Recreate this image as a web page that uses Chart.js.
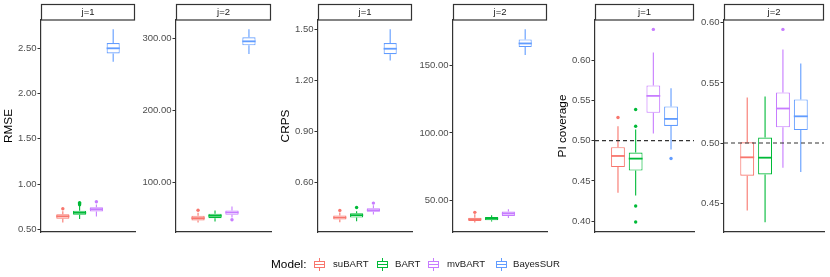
<!DOCTYPE html>
<html>
<head>
<meta charset="utf-8">
<script src="https://cdn.jsdelivr.net/npm/chart.js@4.4.1/dist/chart.umd.min.js"></script>
<style>
  body { margin: 0; background: #fff; width: 830px; height: 277px; position: relative; overflow: hidden;
         font-family: "Liberation Sans", Arial, sans-serif; }
  canvas { position: absolute; top: 0; }
  .lg { position: absolute; white-space: nowrap; color: #1a1a1a; }
  .key { position: absolute; width: 11px; height: 13px; }
  .key div { position: absolute; }
</style>
</head>
<body>
<canvas id="c1"></canvas>
<canvas id="c2"></canvas>
<canvas id="c3"></canvas>
<canvas id="c4"></canvas>
<canvas id="c5"></canvas>
<canvas id="c6"></canvas>
<div id="legend"></div>
<script>
const models = ["suBART", "BART", "mvBART", "BayesSUR"];
const modelColors = ["#F8766D", "#00BA38", "#C77CFF", "#619CFF"];

// box stats per model: [lower whisker, q1, median, q3, upper whisker]
const rmseJ1 = [[0.576, 0.619, 0.645, 0.667, 0.700], [0.616, 0.662, 0.684, 0.707, 0.758],
                [0.644, 0.699, 0.724, 0.746, 0.776], [2.349, 2.441, 2.497, 2.555, 2.707]];
const rmseJ1Out = [[0.729], [0.772, 0.785, 0.796], [0.806], []];
const rmseJ2 = [[43.8, 46.6, 49.8, 53.1, 57.3], [45.2, 49.8, 53.1, 56.0, 60.5],
                [50.8, 54.5, 57.7, 60.5, 66.1], [278.1, 290.2, 295.8, 301.4, 312.6]];
const rmseJ2Out = [[60.8], [], [47.6], []];
const crpsJ1 = [[0.366, 0.381, 0.393, 0.405, 0.423], [0.371, 0.393, 0.407, 0.419, 0.430],
                [0.411, 0.427, 0.436, 0.448, 0.466], [1.317, 1.354, 1.386, 1.419, 1.500]];
const crpsJ1Out = [[0.435], [0.452], [0.478], []];
const crpsJ2 = [[34.0, 35.0, 36.3, 37.5, 40.0], [34.6, 35.5, 36.8, 38.0, 39.2],
                [37.2, 38.7, 40.5, 42.0, 43.6], [157.4, 163.3, 166.0, 169.0, 176.4]];
const crpsJ2Out = [[41.4], [], [], []];
const piJ1 = [[0.4354, 0.4673, 0.4810, 0.4918, 0.5180], [0.4320, 0.4629, 0.4777, 0.4852, 0.5138],
              [0.5088, 0.5345, 0.5556, 0.5685, 0.6096], [0.4889, 0.5183, 0.5270, 0.5424, 0.5652]];
const piJ1Out = [[0.5287], [0.5387, 0.5179, 0.4188, 0.3990], [0.6381], [0.4778]];
const piJ2 = [[0.4439, 0.4728, 0.4881, 0.5006, 0.5378], [0.4342, 0.4739, 0.4878, 0.5045, 0.5387],
              [0.4795, 0.5131, 0.5287, 0.5420, 0.5778], [0.4758, 0.5108, 0.5222, 0.5362, 0.5662]];
const piJ2Out = [[], [], [0.5945], []];

const rmseJ1Ticks = [0.5, 1.0, 1.5, 2.0, 2.5];
const rmseJ2Ticks = [100, 200, 300];
const crpsJ1Ticks = [0.6, 0.9, 1.2, 1.5];
const crpsJ2Ticks = [50, 100, 150];
const piJ1Ticks = [0.40, 0.45, 0.50, 0.55, 0.60];
const piJ2Ticks = [0.45, 0.50, 0.55, 0.60];
const piTarget = 0.5;

const FONT = "'Liberation Sans', Arial, sans-serif";
const AXIS = "#333333";

function makePanel(o) {
  const canvas = document.getElementById(o.id);
  canvas.width = o.axisW + o.plotW + 2;
  canvas.height = 240;
  canvas.style.left = o.left + "px";

  const outPts = [], outCols = [];
  o.outliers.forEach((arr, i) => arr.forEach(v => { outPts.push({ x: i + 1, y: v }); outCols.push(modelColors[i]); }));

  const parts = {
    id: "boxParts",
    beforeDatasetsDraw(chart) {
      const { ctx, scales: { x, y } } = chart;
      ctx.save();
      ctx.lineWidth = 1.1;
      o.stats.forEach((s, i) => {
        const px = x.getPixelForValue(i + 1);
        ctx.strokeStyle = modelColors[i];
        ctx.beginPath();
        ctx.moveTo(px, y.getPixelForValue(s[0]));
        ctx.lineTo(px, y.getPixelForValue(s[1]));
        ctx.moveTo(px, y.getPixelForValue(s[3]));
        ctx.lineTo(px, y.getPixelForValue(s[4]));
        ctx.stroke();
      });
      ctx.restore();
    },
    afterDatasetsDraw(chart) {
      const { ctx, chartArea, scales: { y } } = chart;
      const bars = chart.getDatasetMeta(0).data;
      ctx.save();
      ctx.lineWidth = 1.8;
      o.stats.forEach((s, i) => {
        const b = bars[i];
        const py = y.getPixelForValue(s[2]);
        ctx.strokeStyle = modelColors[i];
        ctx.beginPath();
        ctx.moveTo(b.x - b.width / 2, py);
        ctx.lineTo(b.x + b.width / 2, py);
        ctx.stroke();
      });
      if (o.refLine !== undefined) {
        const py = y.getPixelForValue(o.refLine);
        ctx.strokeStyle = "#333";
        ctx.lineWidth = 1.1;
        ctx.setLineDash([4, 3]);
        ctx.beginPath();
        ctx.moveTo(chartArea.left, py);
        ctx.lineTo(chartArea.right, py);
        ctx.stroke();
      }
      ctx.restore();
    },
    afterDraw(chart) {
      const { ctx, chartArea } = chart;
      ctx.save();
      ctx.fillStyle = "#fff";
      ctx.strokeStyle = AXIS;
      ctx.lineWidth = 1.2;
      ctx.fillRect(chartArea.left, 4, chartArea.right - chartArea.left, 16);
      ctx.strokeRect(chartArea.left + 0.5, 4.5, chartArea.right - chartArea.left - 1, 15.5);
      ctx.fillStyle = "#1a1a1a";
      ctx.font = "9.5px " + FONT;
      ctx.textAlign = "center";
      ctx.textBaseline = "middle";
      ctx.fillText(o.strip, (chartArea.left + chartArea.right) / 2, 12.5);
      ctx.restore();
    }
  };

  return new Chart(canvas, {
    type: "bar",
    data: {
      datasets: [
        {
          type: "bar",
          data: o.stats.map((s, i) => ({ x: i + 1, y: [s[1], s[3]] })),
          backgroundColor: "#ffffff",
          borderColor: modelColors,
          borderWidth: 1.1,
          borderSkipped: false,
          categoryPercentage: 1,
          barPercentage: 0.78,
        },
        {
          type: "scatter",
          data: outPts,
          pointRadius: 1.7,
          pointBorderWidth: 0,
          pointBackgroundColor: outCols,
        },
      ],
    },
    options: {
      responsive: false,
      animation: false,
      events: [],
      layout: { padding: { left: 0, right: 2, top: 20, bottom: 8 } },
      plugins: { legend: { display: false }, tooltip: { enabled: false } },
      scales: {
        x: {
          type: "linear",
          min: 0.4,
          max: 4.6,
          afterBuildTicks: s => { s.ticks = models.map((m, i) => ({ value: i + 1 })); },
          afterFit: s => { s.height = 0; },
          ticks: { display: false },
          grid: { display: false },
          border: { display: true, color: AXIS, width: 1.2 },
        },
        y: {
          type: "linear",
          min: o.yMin,
          max: o.yMax,
          afterBuildTicks: s => { s.ticks = o.ticks.map(v => ({ value: v })); },
          afterFit: s => { s.width = o.axisW; },
          ticks: {
            padding: 1,
            color: "#4D4D4D",
            font: { family: FONT, size: 9.5 },
            callback: v => v.toFixed(2),
          },
          grid: { drawOnChartArea: false, drawTicks: true, tickLength: 3.5, color: AXIS },
          border: { display: true, color: AXIS, width: 1.2 },
          title: {
            display: !!o.title,
            text: o.title,
            color: "#000",
            font: { family: FONT, size: 11.8 },
            padding: { top: 2, bottom: 0 },
          },
        },
      },
    },
    plugins: [parts],
  });
}

makePanel({ id: "c1", left: 0, axisW: 41, plotW: 96, stats: rmseJ1, outliers: rmseJ1Out,
  yMin: 0.472, yMax: 2.809, ticks: rmseJ1Ticks, strip: "j=1", title: "RMSE" });
makePanel({ id: "c2", left: 136, axisW: 40, plotW: 97, stats: rmseJ2, outliers: rmseJ2Out,
  yMin: 30.5, yMax: 325.5, ticks: rmseJ2Ticks, strip: "j=2" });
makePanel({ id: "c3", left: 277, axisW: 41, plotW: 96, stats: crpsJ1, outliers: crpsJ1Out,
  yMin: 0.308, yMax: 1.555, ticks: crpsJ1Ticks, strip: "j=1", title: "CRPS" });
makePanel({ id: "c4", left: 413, axisW: 40, plotW: 96, stats: crpsJ2, outliers: crpsJ2Out,
  yMin: 26.9, yMax: 183.3, ticks: crpsJ2Ticks, strip: "j=2" });
makePanel({ id: "c5", left: 554, axisW: 41, plotW: 101, stats: piJ1, outliers: piJ1Out,
  yMin: 0.3866, yMax: 0.6498, ticks: piJ1Ticks, strip: "j=1", title: "PI coverage", refLine: piTarget });
makePanel({ id: "c6", left: 684, axisW: 40, plotW: 102, stats: piJ2, outliers: piJ2Out,
  yMin: 0.426, yMax: 0.6023, ticks: piJ2Ticks, strip: "j=2", refLine: piTarget });

// Legend
const legend = document.getElementById("legend");
const keyX = [314, 377, 428, 496];
const labelX = [333, 395, 447, 513];
const title = document.createElement("div");
title.className = "lg";
title.style.cssText = "left:271px;top:257px;font-size:11.8px;line-height:14px;color:#000";
title.textContent = "Model:";
legend.appendChild(title);
models.forEach((m, i) => {
  const c = modelColors[i];
  const key = document.createElement("div");
  key.className = "key";
  key.style.left = keyX[i] + "px";
  key.style.top = "258px";
  key.innerHTML =
    `<div style="left:5px;top:0;width:1px;height:3px;background:${c}"></div>` +
    `<div style="left:0;top:3px;width:9px;height:5px;border:1px solid ${c};background:#fff"></div>` +
    `<div style="left:0;top:6px;width:11px;height:1px;background:${c}"></div>` +
    `<div style="left:5px;top:10px;width:1px;height:3px;background:${c}"></div>`;
  legend.appendChild(key);
  const lab = document.createElement("div");
  lab.className = "lg";
  lab.style.cssText = `left:${labelX[i]}px;top:258px;font-size:9.6px;line-height:12px`;
  lab.textContent = m;
  legend.appendChild(lab);
});
</script>
</body>
</html>
